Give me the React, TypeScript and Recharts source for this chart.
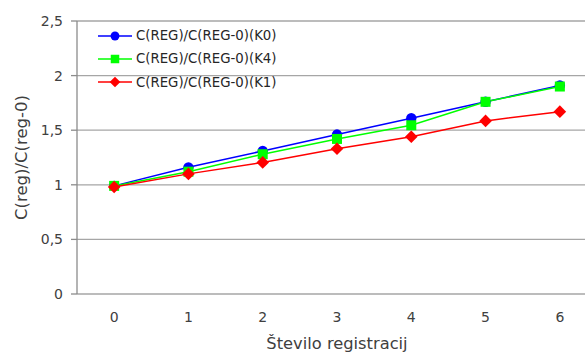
import React from 'react';
import { LineChart, Line, XAxis, YAxis, CartesianGrid, Legend } from 'recharts';

const registrations = [0, 1, 2, 3, 4, 5, 6];
const k0Values = [0.99, 1.16, 1.31, 1.46, 1.61, 1.76, 1.91];
const k4Values = [0.99, 1.12, 1.28, 1.42, 1.545, 1.76, 1.9];
const k1Values = [0.98, 1.1, 1.205, 1.33, 1.44, 1.585, 1.67];
const yTicks = [0, 0.5, 1, 1.5, 2, 2.5];
const boundaryTicks = [-0.5, 0.5, 1.5, 2.5, 3.5, 4.5, 5.5, 6.5];
const seriesNames = ['C(REG)/C(REG-0)(K0)', 'C(REG)/C(REG-0)(K4)', 'C(REG)/C(REG-0)(K1)'];
const legendOrder = ['k0', 'k4', 'k1'];
const xTitle = 'Število registracij';
const yTitle = 'C(reg)/C(reg-0)';

const data = registrations.map((r, i) => ({
  x: r,
  k0: k0Values[i],
  k4: k4Values[i],
  k1: k1Values[i],
}));

const FONT = '"DejaVu Sans", "Open Sans", sans-serif';
const GRID = '#a6a6a6';
const AXIS = '#8c8c8c';
const TEXT = '#404040';

const shapeFor: Record<string, string> = { k0: 'circle', k4: 'square', k1: 'diamond' };

function Marker({ cx, cy, color, shape, s = 1 }: any) {
  if (cx == null || cy == null) return null;
  if (shape === 'circle') return <circle cx={cx} cy={cy} r={5.2 * s} fill={color} stroke="none" />;
  if (shape === 'square') {
    const h = 5 * s;
    return <rect x={cx - h} y={cy - h} width={2 * h} height={2 * h} fill={color} stroke="none" />;
  }
  const d = 6.3 * s;
  return (
    <polygon
      points={`${cx},${cy - d} ${cx + d},${cy} ${cx},${cy + d} ${cx - d},${cy}`}
      fill={color}
      stroke="none"
    />
  );
}

const makeDot = (color: string, shape: string) => (props: any) => (
  <Marker key={`${shape}-${props.index}`} cx={props.cx} cy={props.cy} color={color} shape={shape} />
);

const LegendContent = (props: any) => {
  const items = [...(props.payload || [])].sort(
    (a: any, b: any) => legendOrder.indexOf(a.dataKey) - legendOrder.indexOf(b.dataKey)
  );
  return (
    <div style={{ fontFamily: FONT, fontSize: 13.3, color: '#262626' }}>
      {items.map((p: any) => (
        <div key={p.value} style={{ display: 'flex', alignItems: 'center', height: 23.3 }}>
          <svg width={36} height={14} style={{ display: 'block' }}>
            <line x1={1} y1={7} x2={35} y2={7} stroke={p.color} strokeWidth={1.5} />
            <Marker cx={18} cy={7} color={p.color} shape={shapeFor[p.dataKey]} s={0.85} />
          </svg>
          <span style={{ marginLeft: 3, whiteSpace: 'nowrap' }}>{p.value}</span>
        </div>
      ))}
    </div>
  );
};

const XTitle = (props: any) => {
  const vb = props.viewBox || {};
  return (
    <text
      x={vb.x + vb.width / 2}
      y={349}
      textAnchor="middle"
      fontFamily={FONT}
      fontSize={16.3}
      fill={TEXT}
    >
      {xTitle}
    </text>
  );
};

const YTitle = (props: any) => {
  const vb = props.viewBox || {};
  const cy = vb.y + vb.height / 2;
  return (
    <text
      x={21}
      y={cy}
      transform={`rotate(-90, 21, ${cy})`}
      textAnchor="middle"
      dominantBaseline="central"
      fontFamily={FONT}
      fontSize={16.5}
      fill={TEXT}
    >
      {yTitle}
    </text>
  );
};

export default function App() {
  return (
    <div
      style={{
        position: 'absolute',
        left: 0,
        top: 0,
        width: 585,
        height: 354,
        overflow: 'hidden',
        background: '#fff',
      }}
    >
      <LineChart
        width={600}
        height={354}
        data={data}
        margin={{ top: 21, right: 3, bottom: 15, left: 0 }}
      >
        <CartesianGrid vertical={false} stroke={GRID} strokeWidth={1.3} />
        <XAxis
          xAxisId="bounds"
          dataKey="x"
          type="number"
          domain={[-0.5, 6.5]}
          ticks={boundaryTicks}
          tick={false}
          height={0}
          axisLine={{ stroke: AXIS, strokeWidth: 1.3 }}
          tickLine={{ stroke: AXIS, strokeWidth: 1.3 }}
          tickSize={5}
        />
        <XAxis
          xAxisId="cats"
          dataKey="x"
          type="number"
          domain={[-0.5, 6.5]}
          ticks={registrations}
          axisLine={false}
          tickLine={false}
          tickSize={8}
          tickMargin={10}
          height={45}
          tick={{ fontFamily: FONT, fontSize: 14, fill: TEXT }}
          label={<XTitle />}
        />
        <YAxis
          domain={[0, 2.5]}
          ticks={yTicks}
          width={77}
          axisLine={{ stroke: AXIS, strokeWidth: 1.3 }}
          tickLine={{ stroke: AXIS, strokeWidth: 1.3 }}
          tickSize={6}
          tickMargin={8}
          tick={{ fontFamily: FONT, fontSize: 14, fill: TEXT }}
          tickFormatter={(v: number) => String(v).replace('.', ',')}
          label={<YTitle />}
        />
        <Legend
          layout="vertical"
          verticalAlign="middle"
          align="center"
          content={<LegendContent />}
          wrapperStyle={{ left: 97, top: 24, width: 'auto' }}
        />
        <Line
          xAxisId="cats"
          dataKey="k0"
          name={seriesNames[0]}
          stroke="#0000ff"
          strokeWidth={1.5}
          dot={makeDot('#0000ff', 'circle')}
          isAnimationActive={false}
        />
        <Line
          xAxisId="cats"
          dataKey="k4"
          name={seriesNames[1]}
          stroke="#00ff00"
          strokeWidth={1.5}
          dot={makeDot('#00ff00', 'square')}
          isAnimationActive={false}
        />
        <Line
          xAxisId="cats"
          dataKey="k1"
          name={seriesNames[2]}
          stroke="#ff0000"
          strokeWidth={1.5}
          dot={makeDot('#ff0000', 'diamond')}
          isAnimationActive={false}
        />
      </LineChart>
    </div>
  );
}
